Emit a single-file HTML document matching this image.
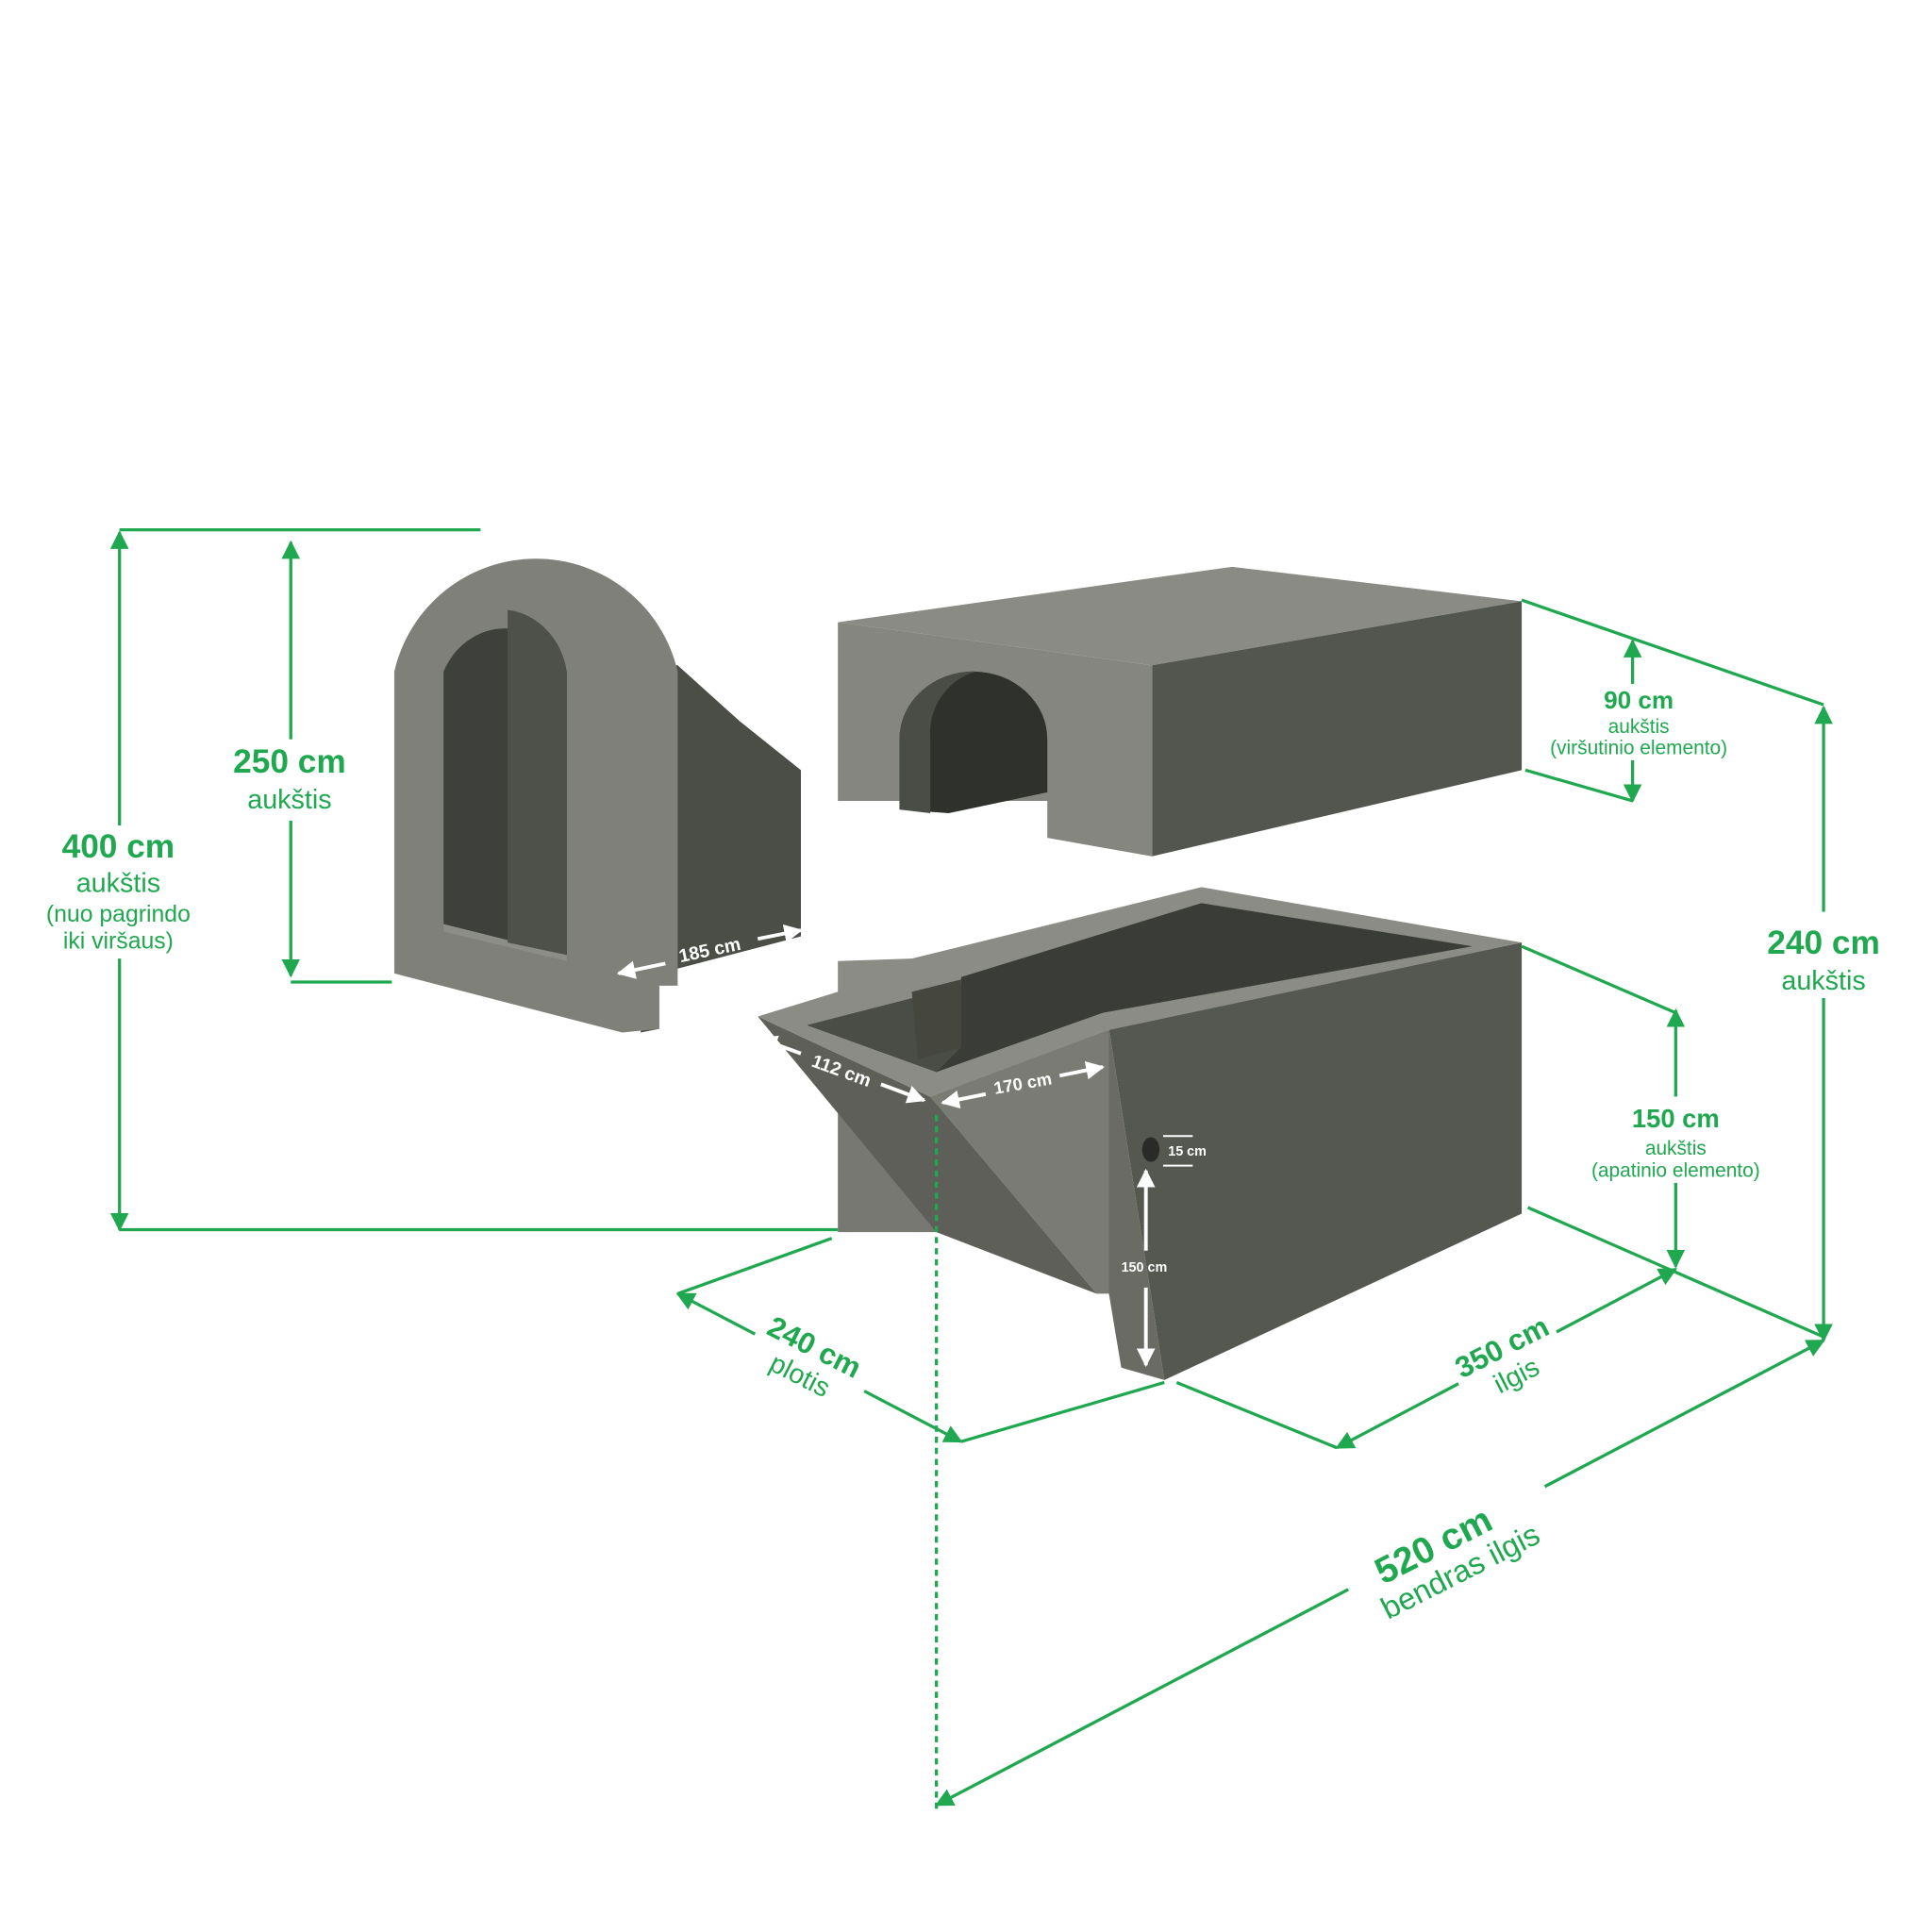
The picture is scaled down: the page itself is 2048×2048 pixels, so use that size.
<!DOCTYPE html>
<html><head><meta charset="utf-8"><style>
html,body{margin:0;padding:0;background:#fff;}
svg{display:block}
text{font-family:"Liberation Sans","DejaVu Sans",sans-serif;}
.g{fill:#1fa84f}
.b{font-weight:bold}
</style></head><body>
<svg width="2048" height="2048" viewBox="0 0 1568 1568" xmlns="http://www.w3.org/2000/svg">
<defs>
<marker id="a" viewBox="0 0 10 10" refX="9" refY="5" markerWidth="6" markerHeight="6" orient="auto-start-reverse"><path d="M0,0 L10,5 L0,10 z" fill="#1fa84f"/></marker>
<marker id="w" viewBox="0 0 10 10" refX="9" refY="5" markerWidth="5" markerHeight="5" orient="auto-start-reverse"><path d="M0,0 L10,5 L0,10 z" fill="#fff"/></marker>
</defs>
<rect width="1568" height="1568" fill="#fff"/>

<!-- Arch piece -->
<path d="M550,540 L600,585 L650,625 L650,760 L535,790 L535,835 L520,838 L520,540 Z" fill="#4b4e47"/>
<path d="M320,790 L320,545 A118,118 0 0 1 550,545 L550,800 L535,800 L535,835 L505,838 Z" fill="#7f807a"/>
<path d="M360,750 L360,545 A55,60 0 0 1 460,545 L460,775 Z" fill="#3e403b"/>
<path d="M360,750 L460,775 L460,780 L360,756 Z" fill="#8c8d87"/>
<path d="M412,495 A55,60 0 0 1 460,545 L460,775 L412,765 Z" fill="#4e504a"/>

<!-- Top slab -->
<polygon points="680,505 1000,460 1235,488 935,540" fill="#8a8b85"/>
<polygon points="935,540 1235,488 1235,625 935,695" fill="#53554f"/>
<polygon points="680,505 935,540 935,695 850,680 850,650 680,650" fill="#85867f"/>
<path d="M730,657 L730,600 A60,55 0 0 1 850,600 L850,643 L770,660 Z" fill="#2f312d"/>
<path d="M730,657 L730,600 A60,55 0 0 1 792,545 A50,52 0 0 0 755,600 L755,660 Z" fill="#4a4c46"/>

<!-- Bottom box -->
<polygon points="900,835 1235,765 1235,985 945,1120" fill="#555751"/>
<polygon points="680,880 755,890 760,1000 680,1000" fill="#777872"/>
<polygon points="755,890 900,835 900,1050 890,1050" fill="#7a7b75"/>
<polygon points="615,825 755,890 890,1050 760,1000" fill="#5e5f59"/>
<polygon points="900,835 945,1120 910,1110 900,1050" fill="#6a6b65"/>
<polygon points="615,825 680,805 680,780 740,778 975,720 1235,765 900,836 755,890" fill="#8b8c86"/>
<polygon points="655,832 780,800 780,793 975,733 1195,768 895,822 760,870" fill="#3a3c37"/>
<polygon points="655,832 780,800 780,850 760,870" fill="#4a4c46"/>
<polygon points="740,805 780,795 780,850 745,860" fill="#45473f"/>
<ellipse cx="934" cy="933" rx="7" ry="10" fill="#2a2b28"/>

<!-- Green dimension lines -->
<g stroke="#1fa84f" stroke-width="2.5" fill="none">
<line x1="97" y1="432" x2="97" y2="998" marker-start="url(#a)" marker-end="url(#a)"/>
<line x1="97" y1="430" x2="390" y2="430"/>
<line x1="97" y1="998" x2="680" y2="998"/>
<line x1="236" y1="440" x2="236" y2="792" marker-start="url(#a)" marker-end="url(#a)"/>
<line x1="236" y1="797" x2="318" y2="797"/>
<line x1="1235" y1="487" x2="1480" y2="572"/>
<line x1="1480" y1="574" x2="1480" y2="1088" marker-start="url(#a)" marker-end="url(#a)"/>
<line x1="1325" y1="520" x2="1325" y2="650" marker-start="url(#a)" marker-end="url(#a)"/>
<line x1="1238" y1="625" x2="1325" y2="650"/>
<line x1="1235" y1="768" x2="1360" y2="822"/>
<line x1="1360" y1="820" x2="1360" y2="1028" marker-start="url(#a)" marker-end="url(#a)"/>
<line x1="1240" y1="980" x2="1480" y2="1085"/>
<line x1="550" y1="1050" x2="780" y2="1170" marker-start="url(#a)" marker-end="url(#a)"/>
<line x1="550" y1="1050" x2="675" y2="1005"/>
<line x1="780" y1="1170" x2="945" y2="1122"/>
<line x1="955" y1="1122" x2="1085" y2="1175"/>
<line x1="1085" y1="1175" x2="1360" y2="1030" marker-start="url(#a)" marker-end="url(#a)"/>
<line x1="760" y1="1465" x2="1480" y2="1088" marker-start="url(#a)" marker-end="url(#a)"/>
<line x1="760" y1="905" x2="760" y2="1472" stroke-dasharray="5,4"/>
</g>
<g fill="#fff">
<rect x="1180" y="1080" width="90" height="50" transform="rotate(-27 1225 1105)"/>
<rect x="1090" y="1210" width="180" height="100" transform="rotate(-27 1180 1260)"/>
<rect x="605" y="1075" width="100" height="70" transform="rotate(27 655 1110)"/>
<rect x="1430" y="740" width="100" height="70"/>
<rect x="1290" y="890" width="150" height="70"/>
<rect x="20" y="670" width="155" height="108"/>
<rect x="180" y="600" width="110" height="66"/>
<rect x="1245" y="555" width="175" height="62"/>
</g>

<!-- White inner dims -->
<g stroke="#fff" stroke-width="3" fill="none">
<line x1="540" y1="782" x2="502" y2="790" marker-end="url(#w)"/>
<line x1="615" y1="762" x2="650" y2="755" marker-end="url(#w)"/>
<line x1="650" y1="855" x2="617" y2="843" marker-end="url(#w)"/>
<line x1="715" y1="880" x2="750" y2="893" marker-end="url(#w)"/>
<line x1="800" y1="888" x2="765" y2="895" marker-end="url(#w)"/>
<line x1="860" y1="873" x2="895" y2="866" marker-end="url(#w)"/>
<line x1="930" y1="1015" x2="930" y2="950" marker-end="url(#w)"/>
<line x1="930" y1="1045" x2="930" y2="1108" marker-end="url(#w)"/>
<line x1="944" y1="922" x2="968" y2="922" stroke-width="1.5"/>
<line x1="944" y1="946" x2="968" y2="946" stroke-width="1.5"/>
</g>
<g fill="#fff" font-weight="bold">
<text x="576" y="776" font-size="15" text-anchor="middle" transform="rotate(-12 576 771)">185 cm</text>
<text x="683" y="874" font-size="15" text-anchor="middle" transform="rotate(20 683 869)">112 cm</text>
<text x="830" y="884" font-size="14" text-anchor="middle" transform="rotate(-10 830 879)">170 cm</text>
<text x="948" y="938" font-size="11">15 cm</text>
<text x="910" y="1032" font-size="11">150 cm</text>
</g>

<!-- Green labels -->
<g class="g" text-anchor="middle">
<text x="96" y="696" font-size="27" class="b">400 cm</text>
<text x="96" y="724" font-size="22">aukštis</text>
<text x="96" y="748" font-size="19">(nuo pagrindo</text>
<text x="96" y="770" font-size="19">iki viršaus)</text>
<text x="235" y="627" font-size="27" class="b">250 cm</text>
<text x="235" y="656" font-size="22">aukštis</text>
<text x="1330" y="575" font-size="20" class="b">90 cm</text>
<text x="1330" y="595" font-size="16">aukštis</text>
<text x="1330" y="612" font-size="16">(viršutinio elemento)</text>
<text x="1480" y="774" font-size="27" class="b">240 cm</text>
<text x="1480" y="803" font-size="22">aukštis</text>
<text x="1360" y="915" font-size="21" class="b">150 cm</text>
<text x="1360" y="937" font-size="16">aukštis</text>
<text x="1360" y="955" font-size="16">(apatinio elemento)</text>
<g transform="rotate(27 655 1105)"><text x="655" y="1100" font-size="24" class="b">240 cm</text><text x="655" y="1125" font-size="22">plotis</text></g>
<g transform="rotate(-27 1225 1105)"><text x="1225" y="1100" font-size="24" class="b">350 cm</text><text x="1225" y="1125" font-size="22">ilgis</text></g>
<g transform="rotate(-27 1180 1265)"><text x="1170" y="1258" font-size="30" class="b">520 cm</text><text x="1180" y="1285" font-size="25">bendras ilgis</text></g>
</g>
</svg>
</body></html>
